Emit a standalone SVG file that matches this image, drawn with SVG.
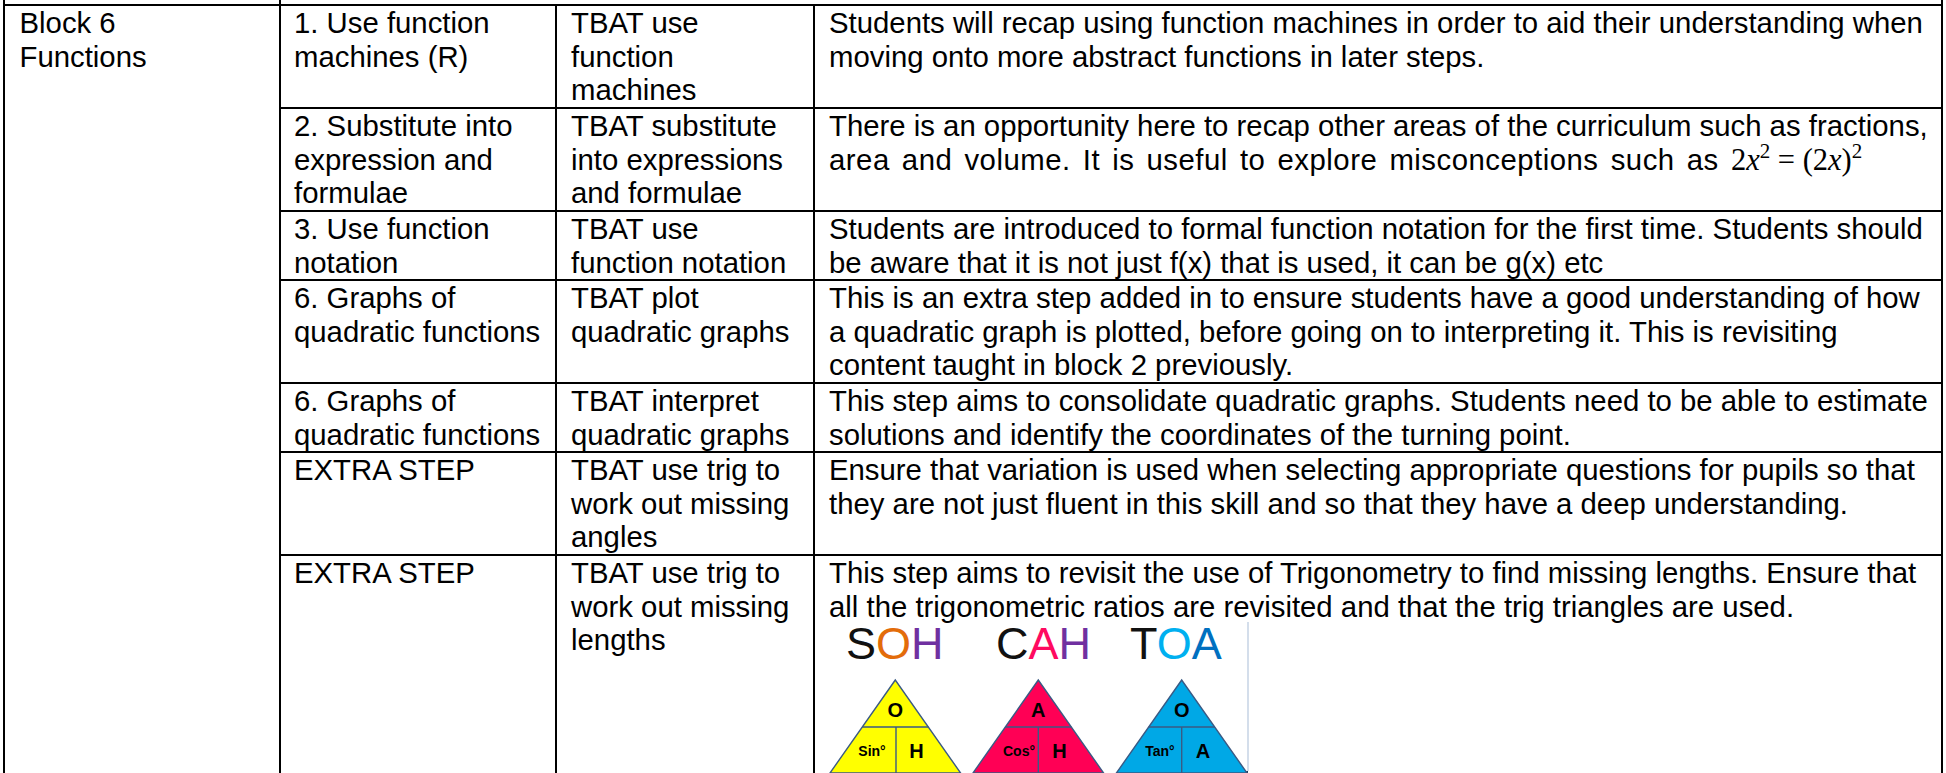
<svg xmlns="http://www.w3.org/2000/svg" width="1946" height="773" viewBox="0 0 1946 773">
  <style>
    .t { font-family: "Liberation Sans", Arial, sans-serif; font-size: 29.33px; fill: #000; }
    .m { font-family: "Liberation Serif", "DejaVu Serif", serif; font-size: 30.5px; letter-spacing: 0; word-spacing: 0; }
    .wide { letter-spacing: 0.5px; word-spacing: 3.5px; }
    .grid line { stroke: #000; stroke-width: 2; }
    .tri { stroke: #3a5a84; stroke-width: 1.4; }
    .div { stroke: #3a5a84; stroke-width: 1.4; fill: none; }
    .lab { font-family: "Liberation Sans", Arial, sans-serif; font-weight: bold; fill: #000; text-anchor: middle; }
    .big { font-family: "Liberation Sans", Arial, sans-serif; font-size: 45px; }
  </style>

  <rect width="1946" height="773" fill="#ffffff"/>

  <!-- table rules -->
  <g id="grid" class="grid">
    <line x1="4" y1="0" x2="4" y2="773"/>
    <line x1="280" y1="0" x2="280" y2="773"/>
    <line x1="556" y1="5" x2="556" y2="773"/>
    <line x1="814" y1="5" x2="814" y2="773"/>
    <line x1="1942" y1="0" x2="1942" y2="773"/>
    <line x1="3" y1="5" x2="1943" y2="5"/>
    <line x1="279" y1="108" x2="1943" y2="108"/>
    <line x1="279" y1="211" x2="1943" y2="211"/>
    <line x1="279" y1="280" x2="1943" y2="280"/>
    <line x1="279" y1="383" x2="1943" y2="383"/>
    <line x1="279" y1="452" x2="1943" y2="452"/>
    <line x1="279" y1="555" x2="1943" y2="555"/>
  </g>

  <!-- block heading (merged first column) -->
  <g id="block">
    <text class="t" x="19.5" y="33">Block 6<tspan x="19.5" dy="33.7">Functions</tspan></text>
  </g>

  <g id="step1">
    <text class="t" x="294" y="33">1. Use function<tspan x="294" dy="33.7">machines (R)</tspan></text>
    <text class="t" x="571" y="33">TBAT use<tspan x="571" dy="33.7">function</tspan><tspan x="571" dy="33.7">machines</tspan></text>
    <text class="t" x="829" y="33">Students will recap using function machines in order to aid their understanding when<tspan x="829" dy="33.7">moving onto more abstract functions in later steps.</tspan></text>
  </g>

  <g id="step2">
    <text class="t" x="294" y="136">2. Substitute into<tspan x="294" dy="33.7">expression and</tspan><tspan x="294" dy="33.7">formulae</tspan></text>
    <text class="t" x="571" y="136">TBAT substitute<tspan x="571" dy="33.7">into expressions</tspan><tspan x="571" dy="33.7">and formulae</tspan></text>
    <text class="t" x="829" y="136">There is an opportunity here to recap other areas of the curriculum such as fractions,<tspan class="wide" x="829" dy="33.7">area and volume. It is useful to explore misconceptions such as </tspan><tspan class="m">2<tspan font-style="italic">x</tspan><tspan font-size="21" dy="-12">2</tspan><tspan dy="12"> = (2</tspan><tspan font-style="italic">x</tspan>)<tspan font-size="21" dy="-12">2</tspan></tspan></text>
  </g>

  <g id="step3">
    <text class="t" x="294" y="239">3. Use function<tspan x="294" dy="33.7">notation</tspan></text>
    <text class="t" x="571" y="239">TBAT use<tspan x="571" dy="33.7">function notation</tspan></text>
    <text class="t" x="829" y="239">Students are introduced to formal function notation for the first time. Students should<tspan x="829" dy="33.7">be aware that it is not just f(x) that is used, it can be g(x) etc</tspan></text>
  </g>

  <g id="step6-plot">
    <text class="t" x="294" y="308">6. Graphs of<tspan x="294" dy="33.7">quadratic functions</tspan></text>
    <text class="t" x="571" y="308">TBAT plot<tspan x="571" dy="33.7">quadratic graphs</tspan></text>
    <text class="t" x="829" y="308">This is an extra step added in to ensure students have a good understanding of how<tspan x="829" dy="33.7">a quadratic graph is plotted, before going on to interpreting it. This is revisiting</tspan><tspan x="829" dy="33.7">content taught in block 2 previously.</tspan></text>
  </g>

  <g id="step6-interpret">
    <text class="t" x="294" y="411">6. Graphs of<tspan x="294" dy="33.7">quadratic functions</tspan></text>
    <text class="t" x="571" y="411">TBAT interpret<tspan x="571" dy="33.7">quadratic graphs</tspan></text>
    <text class="t" x="829" y="411">This step aims to consolidate quadratic graphs. Students need to be able to estimate<tspan x="829" dy="33.7">solutions and identify the coordinates of the turning point.</tspan></text>
  </g>

  <g id="extra-angles">
    <text class="t" x="294" y="480">EXTRA STEP</text>
    <text class="t" x="571" y="480">TBAT use trig to<tspan x="571" dy="33.7">work out missing</tspan><tspan x="571" dy="33.7">angles</tspan></text>
    <text class="t" x="829" y="480">Ensure that variation is used when selecting appropriate questions for pupils so that<tspan x="829" dy="33.7">they are not just fluent in this skill and so that they have a deep understanding.</tspan></text>
  </g>

  <g id="extra-lengths">
    <text class="t" x="294" y="583">EXTRA STEP</text>
    <text class="t" x="571" y="583">TBAT use trig to<tspan x="571" dy="33.7">work out missing</tspan><tspan x="571" dy="33.7">lengths</tspan></text>
    <text class="t" x="829" y="583">This step aims to revisit the use of Trigonometry to find missing lengths. Ensure that<tspan x="829" dy="33.7">all the trigonometric ratios are revisited and that the trig triangles are used.</tspan></text>
  </g>

  <!-- SOH CAH TOA panel -->
  <g id="trig-triangles">
    <line x1="1248" y1="622" x2="1248" y2="771" stroke="#b7c8de" stroke-width="1.2"/>
    <rect x="1190" y="771" width="58" height="2" fill="#1f3b5c"/>

    <text class="big" x="846" y="659"><tspan fill="#111">S</tspan><tspan fill="#e36c0a">O</tspan><tspan fill="#7030a0">H</tspan></text>
    <text class="big" x="996" y="659"><tspan fill="#111">C</tspan><tspan fill="#ff0a60">A</tspan><tspan fill="#7030a0">H</tspan></text>
    <text class="big" x="1130" y="659"><tspan fill="#111">T</tspan><tspan fill="#00b0f0">O</tspan><tspan fill="#0070c0">A</tspan></text>

    <g id="sin">
      <polygon class="tri" points="895.3,680 830,773 960.6,773" fill="#ffff00"/>
      <path class="div" d="M862.3,727 H928.3 M896,727 V773"/>
      <text class="lab" x="895.3" y="717" font-size="20">O</text>
      <text class="lab" x="872" y="756" font-size="14">Sin°</text>
      <text class="lab" x="916.5" y="757.5" font-size="20">H</text>
    </g>
    <g id="cos">
      <polygon class="tri" points="1038.3,680 973,773 1103.6,773" fill="#ff0055"/>
      <path class="div" d="M1005.3,727 H1071.3 M1038.3,727 V773"/>
      <text class="lab" x="1038.3" y="717" font-size="20">A</text>
      <text class="lab" x="1019" y="756" font-size="14">Cos°</text>
      <text class="lab" x="1059.5" y="757.5" font-size="20">H</text>
    </g>
    <g id="tan">
      <polygon class="tri" points="1181.7,680 1116.4,773 1247,773" fill="#00a8e6"/>
      <path class="div" d="M1148.7,727 H1214.7 M1181.7,727 V773"/>
      <text class="lab" x="1181.7" y="717" font-size="20">O</text>
      <text class="lab" x="1160" y="756" font-size="14">Tan°</text>
      <text class="lab" x="1203" y="757.5" font-size="20">A</text>
    </g>
  </g>
</svg>
